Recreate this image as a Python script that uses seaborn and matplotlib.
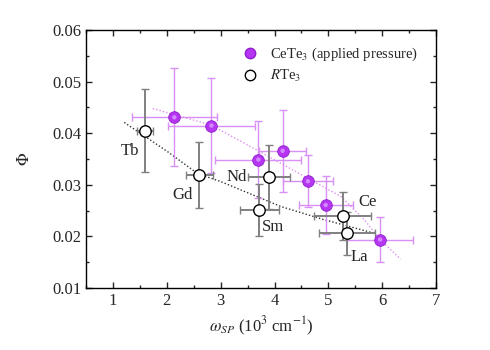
import numpy as np
import pandas as pd
import matplotlib
matplotlib.use("Agg")
import matplotlib.pyplot as plt
import seaborn as sns
from matplotlib.ticker import MultipleLocator
from matplotlib.lines import Line2D

# CeTe3 under applied pressure
ce_x = [2.14, 2.83, 3.70, 4.15, 4.62, 4.95, 5.96]
ce_y = [0.0431, 0.0415, 0.0349, 0.0366, 0.0307, 0.0261, 0.0194]
ce_xerr = [0.79, 0.80, 0.80, 0.44, 0.46, 0.50, 0.62]
ce_yerr = [0.0095, 0.0092, 0.0075, 0.0080, 0.0050, 0.0057, 0.0043]

# RTe3 series
r_names = ["Tb", "Gd", "Nd", "Sm", "Ce", "La"]
r_x = [1.59, 2.60, 3.89, 3.72, 5.27, 5.34]
r_y = [0.0405, 0.0319, 0.0316, 0.0251, 0.0240, 0.0206]
r_xerr = [0.15, 0.25, 0.39, 0.36, 0.53, 0.52]
r_yerr = [0.0081, 0.0064, 0.0062, 0.0050, 0.0047, 0.0042]
label_x = [1.32, 2.30, 3.29, 3.97, 5.72, 5.58]
label_y = [0.0366, 0.0280, 0.0316, 0.0219, 0.0267, 0.0161]

# guide curves
fit_ce_x = [1.74, 2.82, 3.68, 5.24, 5.67, 5.96, 6.34]
fit_ce_y = [0.0448, 0.0416, 0.0367, 0.0277, 0.0232, 0.0194, 0.0156]
fit_r_x = [1.21, 2.02, 2.57, 3.01, 4.12, 4.87, 5.86]
fit_r_y = [0.0421, 0.0364, 0.0322, 0.0306, 0.0258, 0.0234, 0.0206]

sns.set_style("ticks")
plt.rcParams["font.family"] = ["Liberation Serif", "DejaVu Serif"]
plt.rcParams["mathtext.fontset"] = "stix"

fig = plt.figure(figsize=(4.9, 3.5), dpi=100)
ax = fig.add_axes([0.1755, 0.177, 0.7145, 0.737])

purple = "#b535f0"
purple_light = "#d890f5"
gray = "#808080"

# fit lines
sns.lineplot(x=fit_ce_x, y=fit_ce_y, ax=ax, color="#e08ef0", linestyle=(0, (1, 1.5)),
             linewidth=1.0, sort=False)
sns.lineplot(x=fit_r_x, y=fit_r_y, ax=ax, color="#333333", linestyle=(0, (1, 1.5)),
             linewidth=1.0, sort=False)

# error bars
ax.errorbar(ce_x, ce_y, xerr=ce_xerr, yerr=ce_yerr, fmt="none", ecolor=purple_light,
            elinewidth=1.0, capsize=3, capthick=1.0, zorder=2)
ax.errorbar(r_x, r_y, xerr=r_xerr, yerr=r_yerr, fmt="none", ecolor=gray,
            elinewidth=1.4, capsize=3, capthick=1.0, zorder=3)

# points
df_ce = pd.DataFrame({"x": ce_x, "y": ce_y})
df_r = pd.DataFrame({"x": r_x, "y": r_y})
sns.scatterplot(data=df_ce, x="x", y="y", ax=ax, s=70, color=purple,
                edgecolor="#9020d0", linewidth=0.6, zorder=4)
sns.scatterplot(data=df_ce, x="x", y="y", ax=ax, s=10, color="#d488ff",
                edgecolor="none", linewidth=0, zorder=5)
sns.scatterplot(data=df_r, x="x", y="y", ax=ax, s=68, color="white",
                edgecolor="black", linewidth=1.0, zorder=6)

for n, lx, ly in zip(r_names, label_x, label_y):
    ax.text(lx, ly, n, ha="center", va="center", fontsize=12)

ax.set_xlim(0.5, 7)
ax.set_ylim(0.01, 0.06)
ax.xaxis.set_major_locator(MultipleLocator(1))
ax.xaxis.set_minor_locator(MultipleLocator(0.5))
ax.yaxis.set_major_locator(MultipleLocator(0.01))
ax.yaxis.set_minor_locator(MultipleLocator(0.005))
ax.set_yticks([0.01, 0.02, 0.03, 0.04, 0.05, 0.06])
ax.set_yticklabels(["0.01", "0.02", "0.03", "0.04", "0.05", "0.06"])
ax.tick_params(which="both", direction="in", top=True, right=True, labelsize=12)
ax.tick_params(which="major", length=4, width=1)
ax.tick_params(which="minor", length=2.5, width=1)
for s in ax.spines.values():
    s.set_linewidth(1.0)
    s.set_color("black")

ax.set_xlabel(r"$\omega_{SP}$ (10$^3$ cm$^{-1}$)", fontsize=12, labelpad=4)
ax.set_ylabel(r"$\Phi$", fontsize=12, labelpad=14)

handles = [
    Line2D([], [], marker="o", linestyle="none", markersize=7.5, markerfacecolor=purple,
           markeredgecolor="#9020d0"),
    Line2D([], [], marker="o", linestyle="none", markersize=7.5, markerfacecolor="white",
           markeredgecolor="black"),
]
ax.legend(handles, [r"CeTe$_3$ (applied pressure)", r"$R$Te$_3$"], loc="upper left",
          bbox_to_anchor=(0.40, 0.99), frameon=False, fontsize=10.5, handletextpad=0.6,
          labelspacing=0.35, handlelength=1.5)

fig.savefig("out.png", dpi=100)
